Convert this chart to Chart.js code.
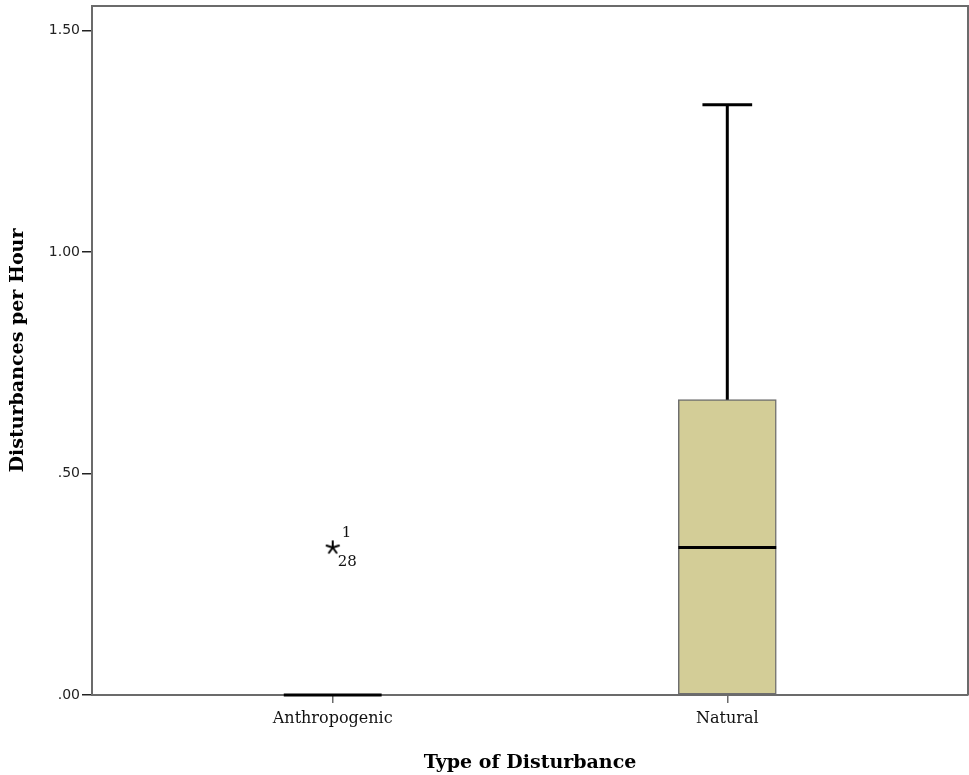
<!DOCTYPE html>
<html>
<head>
<meta charset="utf-8">
<script src="https://cdn.jsdelivr.net/npm/chart.js@4"></script>
<style>
  html, body { margin: 0; padding: 0; background: #fff; }
  #wrap { width: 969px; height: 775px; }
</style>
</head>
<body>
<div id="wrap"><canvas id="box_chart"></canvas></div>
<script>
// box plot values
const categories = ['Anthropogenic', 'Natural'];
const categoryPos = [1, 2];
const whiskerLow = [0, 0];
const q1 = [0, 0];
const median = [0, 0.333];
const q3 = [0, 0.667];
const whiskerHigh = [0, 1.333];
// extreme outliers (SPSS asterisk) with their case numbers
const outlierCategory = [0];
const outlierValues = [0.333];
const outlierCases = [['1', '28']];
const yTicks = [0, 0.5, 1, 1.5];

const boxFill = '#d3cd97';
const boxEdge = '#6e6e6e';
const axisGray = '#6b6b6b';

// asterisk marker like SPSS
function makeStar() {
    const c = document.createElement('canvas');
    c.width = 16; c.height = 16;
    const g = c.getContext('2d');
    g.strokeStyle = '#000';
    g.lineWidth = 2;
    g.lineCap = 'round';
    for (let i = 0; i < 5; i++) {
        const a = (-90 + i * 72) * Math.PI / 180;
        g.beginPath();
        g.moveTo(8, 8);
        g.lineTo(8 + Math.cos(a) * 6.5, 8 + Math.sin(a) * 6.5);
        g.stroke();
    }
    return c;
}

// drop the automatic label paddings so the plot frame sits where SPSS puts it
function noPad(s) {
    s.paddingTop = 0;
    s.paddingBottom = 0;
    s.paddingLeft = 0;
    s.paddingRight = 0;
}

// whiskers, caps, medians, frame and case labels
const boxExtras = {
    id: 'boxExtras',
    afterDatasetsDraw(chart) {
        const ctx = chart.ctx;
        const xs = chart.scales.x;
        const ys = chart.scales.y;
        const area = chart.chartArea;
        const halfBox = 0.124;
        const halfCap = 0.063;
        ctx.save();
        ctx.lineCap = 'butt';
        ctx.strokeStyle = '#000';
        ctx.lineWidth = 3;
        categories.forEach((c, i) => {
            const x = xs.getPixelForValue(categoryPos[i]);
            // upper whisker
            if (whiskerHigh[i] > q3[i]) {
                ctx.beginPath();
                ctx.moveTo(x, ys.getPixelForValue(q3[i]));
                ctx.lineTo(x, ys.getPixelForValue(whiskerHigh[i]));
                ctx.stroke();
                ctx.beginPath();
                ctx.moveTo(xs.getPixelForValue(categoryPos[i] - halfCap), ys.getPixelForValue(whiskerHigh[i]));
                ctx.lineTo(xs.getPixelForValue(categoryPos[i] + halfCap), ys.getPixelForValue(whiskerHigh[i]));
                ctx.stroke();
            }
            if (whiskerLow[i] < q1[i]) {
                ctx.beginPath();
                ctx.moveTo(x, ys.getPixelForValue(q1[i]));
                ctx.lineTo(x, ys.getPixelForValue(whiskerLow[i]));
                ctx.stroke();
            }
            // median
            const my = ys.getPixelForValue(median[i]);
            ctx.beginPath();
            ctx.moveTo(xs.getPixelForValue(categoryPos[i] - halfBox), my);
            ctx.lineTo(xs.getPixelForValue(categoryPos[i] + halfBox), my);
            ctx.stroke();
        });
        // case numbers next to the asterisk
        ctx.fillStyle = '#111';
        ctx.font = '15px "DejaVu Serif"';
        ctx.textAlign = 'left';
        ctx.textBaseline = 'middle';
        outlierValues.forEach((v, i) => {
            const px = xs.getPixelForValue(categoryPos[outlierCategory[i]]);
            const py = ys.getPixelForValue(v);
            ctx.fillText(outlierCases[i][0], px + 9, py - 14);
            ctx.fillText(outlierCases[i][1], px + 5, py + 15);
        });
        // frame top and right
        ctx.strokeStyle = axisGray;
        ctx.lineWidth = 2;
        ctx.beginPath();
        ctx.moveTo(area.left, area.top);
        ctx.lineTo(area.right, area.top);
        ctx.lineTo(area.right, area.bottom);
        ctx.stroke();
        ctx.restore();
    }
};

new Chart(document.getElementById('box_chart'), {
    data: {
        datasets: [{
            type: 'bar',
            data: categoryPos.map((p, i) => ({ x: p, y: [q1[i], q3[i]] })),
            backgroundColor: boxFill,
            borderColor: boxEdge,
            borderWidth: 1.5,
            borderSkipped: false,
            barThickness: 98,
            grouped: false,
            order: 2
        }, {
            type: 'scatter',
            data: outlierValues.map((v, i) => ({ x: categoryPos[outlierCategory[i]], y: v })),
            pointStyle: makeStar(),
            order: 1
        }]
    },
    options: {
        responsive: true,
        maintainAspectRatio: false,
        animation: false,
        layout: { autoPadding: false, padding: { top: 6, right: 1, left: 0, bottom: 0 } },
        plugins: {
            legend: { display: false },
            tooltip: { enabled: false }
        },
        scales: {
            x: {
                type: 'linear',
                min: 0.39,
                max: 2.61,
                offset: false,
                afterFit: s => { s.height = 80; noPad(s); },
                afterBuildTicks: s => { s.ticks = categoryPos.map(v => ({ value: v })); },
                border: { color: axisGray, width: 2 },
                grid: { offset: false, drawOnChartArea: false, drawTicks: true, tickLength: 8, color: axisGray, lineWidth: 1.5 },
                ticks: {
                    padding: 6,
                    color: '#111',
                    font: { family: 'DejaVu Serif', size: 16 },
                    callback: v => categories[categoryPos.indexOf(v)]
                },
                title: {
                    display: true,
                    text: 'Type of Disturbance',
                    color: '#000',
                    font: { family: 'DejaVu Serif', size: 19, weight: 'bold' },
                    padding: { top: 0, bottom: 1 }
                }
            },
            y: {
                min: 0,
                max: 1.556,
                afterFit: s => { s.width = 92; noPad(s); },
                afterBuildTicks: s => { s.ticks = yTicks.map(v => ({ value: v })); },
                border: { color: axisGray, width: 2 },
                grid: { drawOnChartArea: false, drawTicks: true, tickLength: 10, color: '#222', lineWidth: 1.5 },
                ticks: {
                    padding: 2,
                    color: '#222',
                    font: { family: 'DejaVu Sans', size: 14 },
                    callback: v => v.toFixed(2).replace(/^0/, '')
                },
                title: {
                    display: true,
                    text: 'Disturbances per Hour',
                    color: '#000',
                    font: { family: 'DejaVu Serif', size: 19, weight: 'bold' },
                    padding: { top: 7, bottom: 0 }
                }
            }
        }
    },
    plugins: [boxExtras]
});
</script>
</body>
</html>
